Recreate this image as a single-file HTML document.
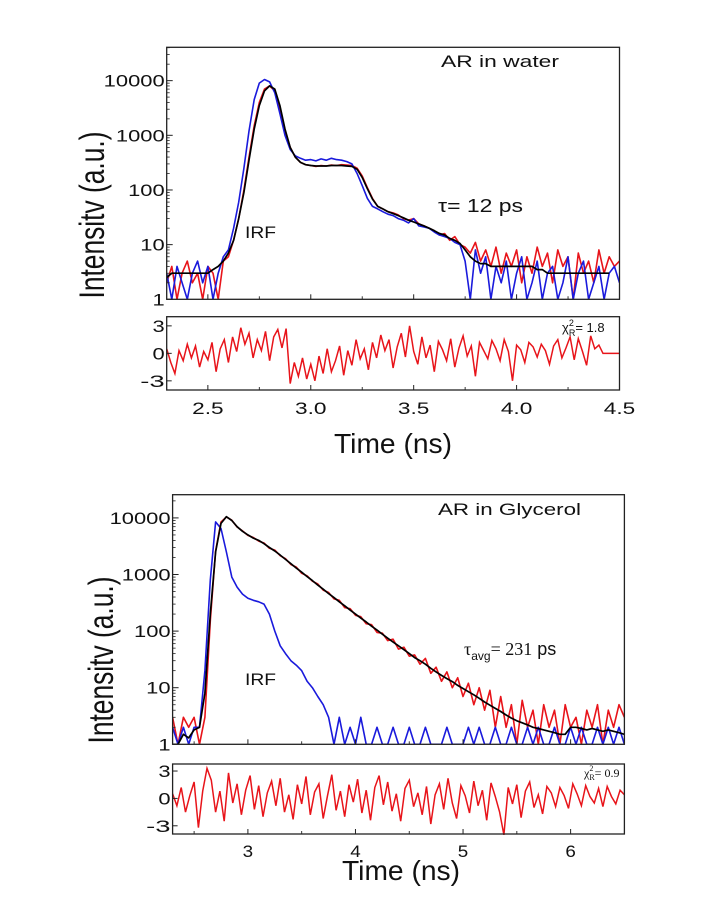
<!DOCTYPE html>
<html><head><meta charset="utf-8"><style>
html,body{margin:0;padding:0;background:#fff;}
svg{display:block;font-family:"Liberation Sans",Arial,sans-serif;}
</style></head><body>
<svg id="fig" width="703" height="920" viewBox="0 0 703 920" xmlns="http://www.w3.org/2000/svg">
<rect width="703" height="920" fill="#fff"/>
<g id="layer"></g>
</svg>
<script>
// ---------- Top chart data (AR in water), time step 0.025 ns from 2.3 ----------
const topStart = 2.3, topStep = 0.025;
const topDecay = [2,4,1,3,5,2,3,1,4,3, 1,5,6,12,30,100,400,1500,4000,7000, 8000,6500,3000,1200,600,400,320,290,280,270, 280,275,285,280,290,285,280,250,180,110, 70,50,45,40,38,35,30,28,30,24, 22,20,18,15,16,12,14,10,9,7, 11,5,8,4,9,3,7,4,8,2, 6,3,9,4,7,2,8,4,6,1, 7,3,5,2,8,3,6,4,5];
const topIRF = [3,1,4,2,1,3,5,2,4,1, 3,6,8,20,60,250,1200,4500,9000,10500, 9500,6000,2500,1000,550,420,380,350,360,340, 370,350,380,360,350,330,300,200,120,70, 50,45,40,36,34,30,28,25,30,22, 21,20,17,15,14,13,11,10,5,1, 8,3,6,1,4,2,5,1,3,6, 1,2,5,1,3,4,1,2,6,1, 3,5,1,2,4,1,3,4,2];
const topFit = [2.5,3,3,3,3,3,3,3,3,3.5, 4,5,7,12,30,90,350,1300,3500,6500, 8000,7000,3500,1300,600,400,320,290,280,275, 275,275,280,280,280,275,270,240,170,105, 68,50,45,40,37,34,31,28,26,24, 22,20,18,16,15,13,12,10.5,8,6, 5,4.5,4.5,4,4,4,4,4,4,4, 4,4,3.5,3.5,3,3,3,3,3,3, 3,3,3,3,3,3,3];
const topResStart = 2.3, topResStep = 0.02;
const topResid = [0.5,-1,-2.2,0.3,-0.8,1,-0.5,0.8,-1.5,0.2, -0.7,1.2,-2,0.5,1.5,-1,1.8,0.2,2.8,1, 2.2,-0.5,1.5,0.3,2.4,-0.8,1.8,2.6,0.6,2.7, -3.3,-1,-2.5,-0.5,-2.8,-1.2,-3,-0.3,-2.2,0.5, -2,-0.8,0.8,-2.4,0.3,-1.3,1.5,-0.6,0.5,-1.8, 1.2,-0.5,2,0.3,1.5,-1.6,0.7,2.2,-0.4,3, 0.2,-1.2,1.8,-0.5,0.9,-2,1.3,0.4,-0.8,1.6, -1.5,0.6,1.9,-0.3,0.8,-2.5,1.2,0.3,-0.6,1.4, 0.5,-0.8,1.5,0.2,-3,0.9,0.4,-1,1.2,0.7, -0.4,1,0.3,-1.2,0.8,1.5,-0.5,0.6,1.8,-0.7, 1.6,0.2,-1.3,1.9,0.5,0.9,0,0,0,0, 0];
const topXTicks = [2.5,3.0,3.5,4.0,4.5];
const topXTickLabels = ["2.5","3.0","3.5","4.0","4.5"];

// ---------- Bottom chart data (AR in Glycerol), time step 0.05 ns from 2.3 ----------
const botStart = 2.3, botStep = 0.05;
const botFit = [1,1,1.5,1.3,1.8,2,8,200,2500,8000, 10500,9000,7000,5800,5000,4400,4000,3500,3000,2600, 2200,1850,1550,1300,1100,920,780,650,550,460, 390,330,280,235,200,170,145,122,104,88, 75,64,55,47,40,34,30,26,22,19, 16.5,14.5,12.8,11,9.7,8.5,7.5,6.5,5.6,4.9, 4.3,3.8,3.3,2.9,2.6,2.4,2.2,2,1.9,1.8, 1.7,1.6,1.5,1.5,2,2,1.9,1.8,1.9,1.8, 1.7,1.8,1.7,1.6,1.5];
const botDecay = [3,1,3,2,3,1,3,150,2600,8500, 10400,9100,6900,5900,4900,4500,3900,3600,2900,2700, 2150,1900,1500,1350,1050,950,760,680,530,480, 370,350,260,250,190,180,135,130,95,92, 68,72,48,52,36,38,26,33,18,23, 13,19,10,15,7,12,5,10,4,9, 2,7,2,5,1,6,2,4,1,5, 2,4,1,5,2,3,1,4,2,5, 1,4,2,5,3];
const botIRF = [2,1,2,1,2,2,20,800,8500,6500, 2500,900,600,450,380,350,330,300,200,100, 55,40,30,25,20,13,10,7,5,3, 1,3,1,2,1,3,1,1,2,1, 1,2,1,1,2,1,1,2,1,1, 1,2,1,1,1,2,1,2,1,1, 2,1,1,2,1,1,2,1,2,1, 1,2,1,1,2,1,2,1,1,2, 1,2,1,2,1];
const botResStart = 2.3, botResStep = 0.04;
const botResid = [0.5,-0.8,1.2,-1.5,0.3,1.8,-3.2,0.8,3.3,2, -1.5,0.8,-2.5,2.8,-0.5,1.6,-1.8,0.9,2.5,-1.2, 1.4,-2,0.6,1.9,-0.8,2.2,-1.5,0.4,-2.3,1.5, -0.6,2.4,-1.8,0.7,1.6,-2.2,0.3,2.6,-1.3,0.8, -2,1.5,-0.4,2.1,-1.6,0.9,-2.4,1.2,2.5,-0.7, 1.8,-1.4,0.5,-2.5,1.1,2,-0.9,0.6,-1.8,1.3, -2.8,0.4,1.6,-1.2,2.2,-0.5,-2.2,1.4,0.3,-1.6, 1.9,-0.8,0.9,-2.4,1.7,0.2,-1.5,-4,1.2,-0.6, 1.5,-2.1,0.8,1.8,-1,0.4,-1.7,1.3,0.6,-0.9, 1.2,0.3,-1.1,1.6,0.5,-0.8,1.4,0.2,-0.5,1.1, -0.9,1.3,0.2,-0.6,0.9, 0.4];
const botXTicks = [3,4,5,6];
const botXTickLabels = ["3","4","5","6"];

const yDecades = [1,10,100,1000,10000];
const yDecadeLabels = ["1","10","100","1000","10000"];
const resTicks = [3,0,-3];
const resTickLabels = ["3","0","-3"];

const NS = "http://www.w3.org/2000/svg";
const layer = document.getElementById('layer');
function mk(tag, attrs, parent){ const e=document.createElementNS(NS,tag); for(const k in attrs) e.setAttribute(k,attrs[k]); (parent||layer).appendChild(e); return e; }
function txt(str, attrs, parent){ const e=mk('text',attrs,parent); e.textContent=str; return e; }

function panel(cfg){
  const g = mk('g',{});
  
  
  const xs = v => cfg.x0 + (v - cfg.xmin)/(cfg.xmax-cfg.xmin)*(cfg.x1-cfg.x0);
  const ys = v => cfg.yBot - (Math.log10(Math.max(v,1)) - 0)/cfg.logMax*(cfg.yBot-cfg.yTop);
  const rs = v => cfg.rBot - (v - cfg.rmin)/(cfg.rmax-cfg.rmin)*(cfg.rBot-cfg.rTop);
  const clipId = cfg.name+'-clip';
  const cp = mk('clipPath',{id:clipId},g); mk('rect',{x:cfg.x0,y:cfg.yTop,width:cfg.x1-cfg.x0,height:cfg.yBot-cfg.yTop},cp);
  const series = [[cfg.decay,'#e8141a',1.6,cfg.name+'-decay-series'],[cfg.irf,'#1a1adc',1.6,cfg.name+'-irf-series'],[cfg.fit,'#000',1.7,cfg.name+'-fit-line']];
  series.forEach(s=>{
    const [arr,col,w,nm]=s;
    const pts = arr.map((v,j)=> xs(cfg.start + j*cfg.step).toFixed(1)+','+ys(v).toFixed(1)).join(' ');
    const pl = mk('polyline',{points:pts,fill:'none',stroke:col,'stroke-width':w,'clip-path':'url(#'+clipId+')','stroke-linejoin':'round'},g);
    
    
  });
  const rpts = cfg.resid.map((v,j)=> xs(cfg.rStart + j*cfg.rStep).toFixed(1)+','+rs(v).toFixed(1)).join(' ');
  const rl = mk('polyline',{points:rpts,fill:'none',stroke:'#e8141a','stroke-width':1.5},g);
  
  
  const f1 = mk('rect',{x:cfg.x0,y:cfg.yTop,width:cfg.x1-cfg.x0,height:cfg.yBot-cfg.yTop,fill:'none',stroke:'#222','stroke-width':1.3},g);
  
  
  const f2 = mk('rect',{x:cfg.x0,y:cfg.rTop,width:cfg.x1-cfg.x0,height:cfg.rBot-cfg.rTop,fill:'none',stroke:'#222','stroke-width':1.3},g);
  
  
  yDecades.forEach((d,i)=>{
    const y = ys(d);
    mk('line',{x1:cfg.x0,x2:cfg.x0+6,y1:y,y2:y,stroke:'#222','stroke-width':1},g);
    for(let m=2;m<10;m++){ const yy=ys(d*m); if(yy>cfg.yTop) mk('line',{x1:cfg.x0,x2:cfg.x0+3,y1:yy,y2:yy,stroke:'#222','stroke-width':0.8},g); }
    const t = txt(yDecadeLabels[i],{x:cfg.x0-2,y:y+6,'text-anchor':'end','font-size':17,textLength:yDecadeLabels[i].length*12.2,lengthAdjust:'spacingAndGlyphs',fill:'#111'},g);
    
    
  });
  resTicks.forEach((r,i)=>{
    const y = rs(r);
    mk('line',{x1:cfg.x0,x2:cfg.x0+5,y1:y,y2:y,stroke:'#222','stroke-width':1},g);
    const t = txt(resTickLabels[i],{x:cfg.x0-2,y:y+6,'text-anchor':'end','font-size':17,textLength:resTickLabels[i].length*12.2,lengthAdjust:'spacingAndGlyphs',fill:'#111'},g);
    
    
  });
  cfg.xTicks.forEach((v,i)=>{
    const x = xs(v);
    [cfg.yBot,cfg.rBot].forEach(yb=> mk('line',{x1:x,x2:x,y1:yb,y2:yb-5,stroke:'#222','stroke-width':1},g));
    const t = txt(cfg.xTickLabels[i],{x:x,y:cfg.xLabelY,'text-anchor':'middle','font-size':17,textLength:cfg.xTickLabels[i].length*10.5,lengthAdjust:'spacingAndGlyphs',fill:'#111'},g);
    
    
  });
  cfg.xMinor.forEach(v=>{ const x=xs(v); [cfg.yBot,cfg.rBot].forEach(yb=> mk('line',{x1:x,x2:x,y1:yb,y2:yb-3,stroke:'#222','stroke-width':0.9},g)); });
  const xt = txt('Time (ns)',{x:cfg.xTitleX,y:cfg.xTitleY,'text-anchor':'middle','font-size':28,textLength:118,lengthAdjust:'spacingAndGlyphs',fill:'#111'},g);
  
  
  const yt = txt('Intensitv (a.u.)',{x:0,y:0,'text-anchor':'middle','font-size':26,textLength:167,lengthAdjust:'spacingAndGlyphs',fill:'#111',transform:'translate('+cfg.yTitleX+','+cfg.yTitleY+') rotate(-90) scale(1,1.35)'},g);
  
  
  return g;
}

panel({name:'water-chart', x0:166.7,x1:619.5,xmin:2.3,xmax:4.5, yTop:47.3,yBot:299.3,logMax:4.61,
  rTop:316.7,rBot:390,rmin:-4,rmax:4,
  start:topStart,step:topStep,decay:topDecay,irf:topIRF,fit:topFit,
  rStart:topResStart,rStep:topResStep,resid:topResid,
  xTicks:topXTicks,xTickLabels:topXTickLabels,xMinor:[2.75,3.25,3.75,4.25],
  xLabelY:414,xTitleX:393,xTitleY:453,yTitleX:104,yTitleY:215});
panel({name:'glycerol-chart', x0:172.6,x1:624.4,xmin:2.3,xmax:6.5, yTop:494.7,yBot:744.3,logMax:4.41,
  rTop:764,rBot:834,rmin:-3.9,rmax:3.77,
  start:botStart,step:botStep,decay:botDecay,irf:botIRF,fit:botFit,
  rStart:botResStart,rStep:botResStep,resid:botResid,
  xTicks:botXTicks,xTickLabels:botXTickLabels,xMinor:[2.5,3.5,4.5,5.5],
  xLabelY:857,xTitleX:401,xTitleY:880,yTitleX:113,yTitleY:660});

function ann(str, attrs, name){ const t=txt(str, attrs);   return t; }
ann('AR in water',{x:441,y:67,'font-size':17,textLength:118,lengthAdjust:'spacingAndGlyphs',fill:'#111'},'water-title');
ann('τ= 12 ps',{x:438,y:212,'font-size':18,textLength:85,lengthAdjust:'spacingAndGlyphs',fill:'#111'},'water-lifetime-label');
ann('IRF',{x:245,y:238,'font-size':17,textLength:31,lengthAdjust:'spacingAndGlyphs',fill:'#111'},'water-irf-label');
const c1 = mk('text',{x:562,y:332,'font-size':13,fill:'#111'});


c1.innerHTML='χ<tspan dy="-6" font-size="9">2</tspan><tspan dx="-5" dy="10" font-size="9">R</tspan><tspan dy="-4">= 1.8</tspan>';
ann('AR in Glycerol',{x:438,y:515,'font-size':17,textLength:143,lengthAdjust:'spacingAndGlyphs',fill:'#111'},'glycerol-title');
const t2 = mk('text',{x:464,y:655,'font-size':18,fill:'#111'});


t2.innerHTML='<tspan font-family="Liberation Serif,serif">τ</tspan><tspan dy="5" font-size="12">avg</tspan><tspan dy="-5" font-family="Liberation Serif,serif">= 231</tspan> ps';
ann('IRF',{x:245,y:685,'font-size':17,textLength:31,lengthAdjust:'spacingAndGlyphs',fill:'#111'},'glycerol-irf-label');
const c2 = mk('text',{x:584,y:777,'font-size':12,fill:'#111','font-family':'Liberation Serif,serif'});


c2.innerHTML='χ<tspan dy="-6" font-size="8">2</tspan><tspan dx="-4" dy="9" font-size="8">R</tspan><tspan dy="-3">= 0.9</tspan>';
</script>
</body></html>
